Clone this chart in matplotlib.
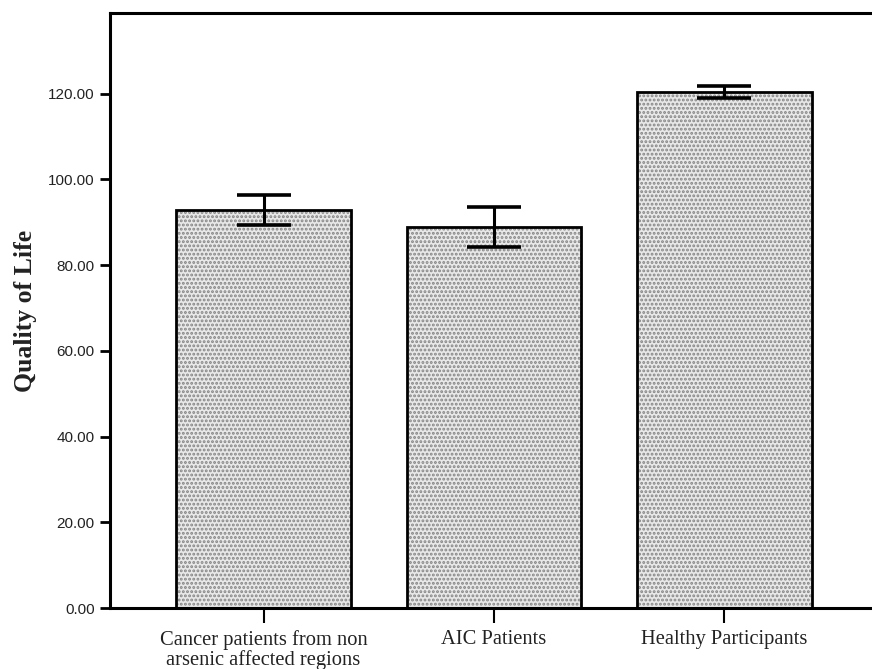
import matplotlib
matplotlib.use("Agg")
import matplotlib.pyplot as plt

groups = ["Cancer patients from non\narsenic affected regions", "AIC Patients", "Healthy Participants"]
qol_mean = [92.8, 88.9, 120.4]
qol_err = [3.5, 4.75, 1.4]
y_ticks = [0, 20, 40, 60, 80, 100, 120]


def main():
    fig = plt.figure(figsize=(8.72, 6.69), dpi=100)
    # right spine falls just outside the picture, as in the original
    ax = fig.add_axes([110 / 872, 1 - 608 / 669, (878 - 110) / 872, (608 - 13) / 669])

    x = list(range(len(groups)))
    plt.rcParams['hatch.linewidth'] = 1.4
    # stippled fill, then the black outline on top
    ax.bar(x, qol_mean, width=0.755, color="#e8e8e8", edgecolor="#858585",
           hatch="....", linewidth=0, zorder=2)
    ax.bar(x, qol_mean, width=0.755, fill=False, edgecolor="black",
           linewidth=2.0, zorder=3)
    ax.errorbar(x, qol_mean, yerr=qol_err, fmt="none", ecolor="black",
                elinewidth=2.2, capsize=19.5, capthick=2.6, zorder=4)

    ax.set_xlim(-0.666, 2.666)
    ax.set_ylim(0, 138.8)
    ax.set_yticks(y_ticks)
    ax.set_yticklabels([f"{v:.2f}" for v in y_ticks], fontfamily="Liberation Sans",
                       fontsize=11, color="#222222")
    ax.set_xticks(x)
    ax.set_xticklabels(groups, fontfamily="Liberation Serif", fontsize=14.8,
                       linespacing=0.98, color="#222222")
    ax.tick_params(axis="y", direction="out", length=7, width=2, pad=4)
    ax.tick_params(axis="x", direction="out", length=11, width=1.5, pad=5)

    ax.set_ylabel("Quality of Life", fontfamily="Liberation Serif", fontweight="bold",
                  fontsize=18.5, labelpad=8, color="#222222")

    for side in ["left", "bottom", "top", "right"]:
        ax.spines[side].set_linewidth(2.2)

    fig.savefig("out.png", dpi=100)


if __name__ == "__main__":
    main()
